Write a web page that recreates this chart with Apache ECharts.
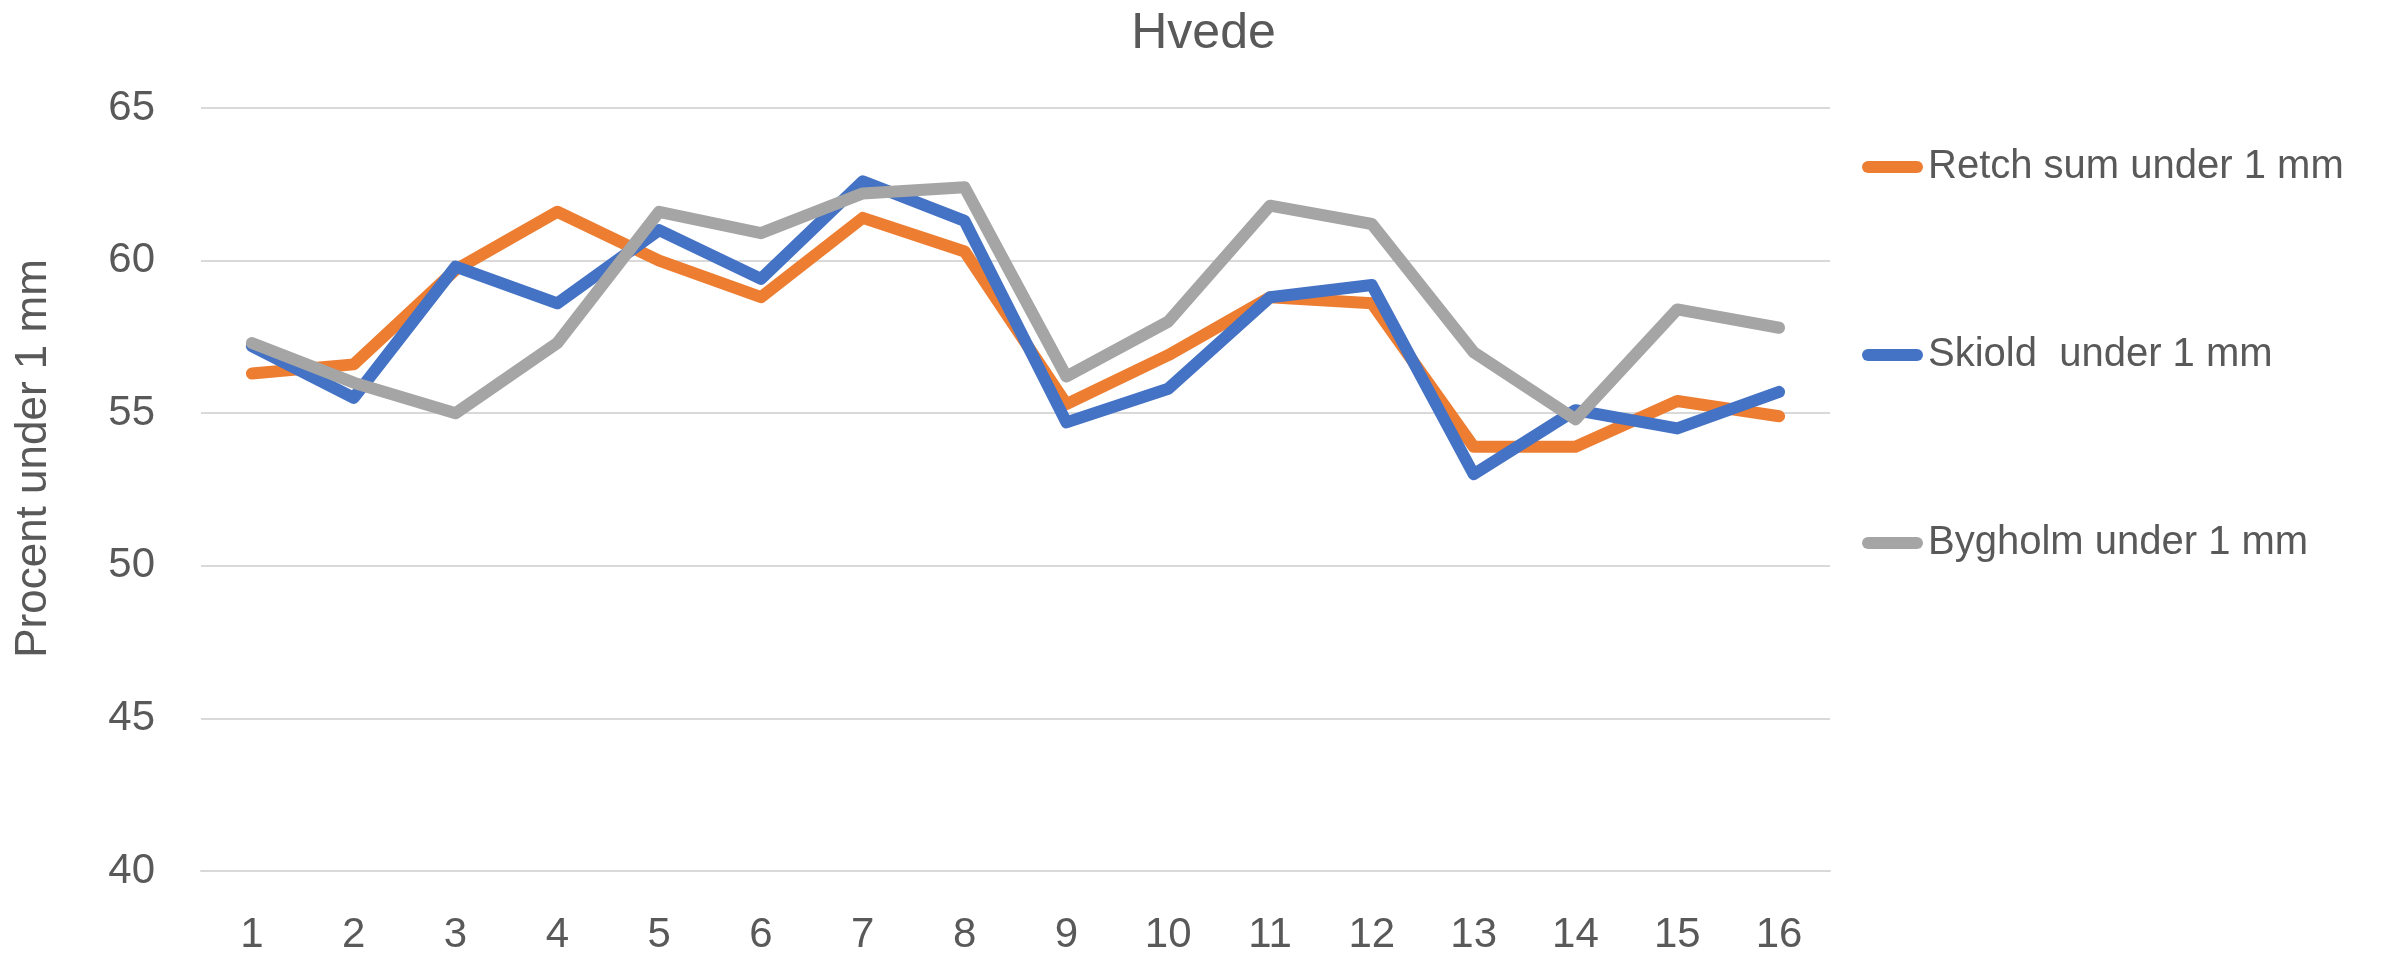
<!DOCTYPE html>
<html>
<head>
<meta charset="utf-8">
<title>Hvede</title>
<script src="https://cdn.jsdelivr.net/npm/echarts@6/dist/echarts.min.js"></script>
<style>
	html,body{margin:0;padding:0;background:#fff;}
	#main{width:2407px;height:954px;}
</style>
</head>
<body>
<div id="main"></div>
<script>
// data
var categories = ['1','2','3','4','5','6','7','8','9','10','11','12','13','14','15','16'];
var retchValues = [56.3,56.6,59.7,61.6,60.0,58.8,61.4,60.3,55.3,56.9,58.8,58.6,53.9,53.9,55.4,54.9];
var skioldValues = [57.2,55.5,59.8,58.6,61.0,59.4,62.6,61.3,54.7,55.8,58.8,59.2,53.0,55.1,54.5,55.7];
var bygholmValues = [57.3,56.0,55.0,57.3,61.6,60.9,62.2,62.4,56.2,58.0,61.8,61.2,57.0,54.8,58.4,57.8];
var seriesNames = ['Retch sum under 1 mm','Skiold  under 1 mm','Bygholm under 1 mm'];

var COLOR = {
	ORANGE:'#ED7D31',
	BLUE:'#4472C4',
	GRAY:'#A5A5A5',
	TEXT:'#595959',
	GRID:'#D9D9D9'
};
var FONT = '"Liberation Sans", Arial, sans-serif';

function makeLine(name,data,color){
	return {
		name: name,
		type: 'line',
		data: data,
		symbol: 'none',
		showSymbol: false,
		color: color,
		lineStyle: {
			width: 12,
			color: color,
			cap: 'round',
			join: 'round'
		}
	};
}

var myChart = echarts.init(document.getElementById('main'));
myChart.setOption({
	animation: false,
	backgroundColor: '#fff',
	title: {
		text: 'Hvede',
		left: 'center',
		top: 9,
		padding: 0,
		textStyle: {
			color: COLOR.TEXT,
			fontFamily: FONT,
			fontSize: 50,
			fontWeight: 'normal'
		}
	},
	legend: {
		orient: 'vertical',
		left: 1857,
		top: 142,
		itemWidth: 61,
		itemHeight: 12,
		itemGap: 148,
		icon: 'path://M6,0 H55 A6,6 0 0 1 55,12 H6 A6,6 0 0 1 6,0 Z',
		textStyle: {
			color: COLOR.TEXT,
			fontFamily: FONT,
			fontSize: 40,
			lineHeight: 40
		},
		data: seriesNames
	},
	grid: {
		left: 201,
		right: 577,
		top: 108,
		bottom: 83,
		containLabel: false,
		outerBoundsMode: 'none'
	},
	xAxis: {
		type: 'category',
		data: categories,
		boundaryGap: true,
		axisLine: {
			lineStyle: { color: COLOR.GRID, width: 2 }
		},
		axisTick: { show: false },
		axisLabel: {
			color: COLOR.TEXT,
			fontFamily: FONT,
			fontSize: 42,
			margin: 43
		}
	},
	yAxis: {
		type: 'value',
		min: 40,
		max: 65,
		interval: 5,
		name: 'Procent under 1 mm',
		nameLocation: 'middle',
		nameRotate: 90,
		nameGap: 145,
		nameTextStyle: {
			color: COLOR.TEXT,
			fontFamily: FONT,
			fontSize: 44,
			padding: [0,0,0,62]
		},
		axisLine: { show: false },
		axisTick: { show: false },
		splitLine: {
			lineStyle: { color: COLOR.GRID, width: 2 }
		},
		axisLabel: {
			color: COLOR.TEXT,
			fontFamily: FONT,
			fontSize: 42,
			margin: 46
		}
	},
	series: [
		makeLine(seriesNames[0],retchValues,COLOR.ORANGE),
		makeLine(seriesNames[1],skioldValues,COLOR.BLUE),
		makeLine(seriesNames[2],bygholmValues,COLOR.GRAY)
	]
});
</script>
</body>
</html>
